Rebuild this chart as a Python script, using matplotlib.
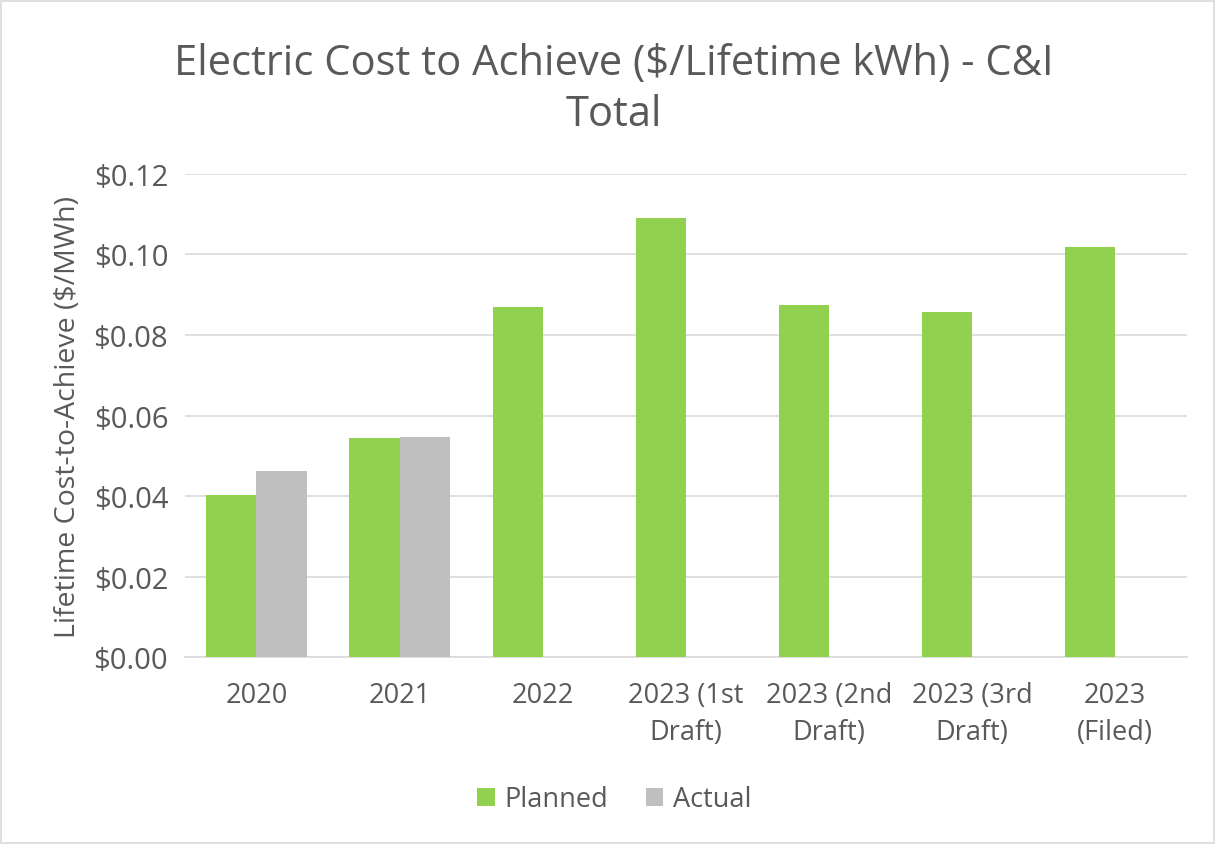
import numpy as np
import matplotlib.pyplot as plt
from matplotlib.patches import Rectangle

categories = ['2020', '2021', '2022', '2023 (1st\nDraft)', '2023 (2nd\nDraft)',
              '2023 (3rd\nDraft)', '2023\n(Filed)']
planned = [0.0402, 0.0544, 0.0870, 0.1091, 0.0875, 0.0857, 0.1019]
actual = [0.0462, 0.0547, np.nan, np.nan, np.nan, np.nan, np.nan]
yticks = [0.0, 0.02, 0.04, 0.06, 0.08, 0.10, 0.12]

plt.rcParams['font.family'] = ['Open Sans', 'DejaVu Sans']
text_color = '#595959'

fig = plt.figure(figsize=(12.16, 8.45), dpi=100)
ax = fig.add_axes([0.152, 0.221, 0.824, 0.572])

x = np.arange(len(categories))
w = 0.35
ax.bar(x - w / 2, planned, w, color='#92D050', label='Planned', zorder=3)
ax.bar(x + w / 2, actual, w, color='#BFBFBF', label='Actual', zorder=3)

ax.set_xlim(-0.5, len(categories) - 0.5)
ax.set_ylim(0, 0.12)
ax.set_yticks(yticks)
ax.set_yticklabels(['$%.2f' % v for v in yticks])
ax.set_xticks(x)
ax.set_xticklabels(categories, linespacing=1.45)
ax.tick_params(length=0, colors=text_color)
ax.tick_params(axis='x', pad=17, labelsize=19.5)
ax.tick_params(axis='y', pad=12, labelsize=21)
ax.grid(axis='y', color='#D9D9D9', linewidth=1.2, zorder=0)
for s in ['top', 'right', 'left']:
    ax.spines[s].set_visible(False)
ax.spines['bottom'].set_color('#D9D9D9')
ax.spines['bottom'].set_linewidth(1.2)

ax.set_ylabel('Lifetime Cost-to-Achieve ($/MWh)', fontsize=20.5, color=text_color, labelpad=8)

fig.text(0.505, 0.894, 'Electric Cost to Achieve ($/Lifetime kWh) - C&I\nTotal',
         ha='center', va='center', fontsize=30, color=text_color, linespacing=1.3)

fig.legend(loc='center', bbox_to_anchor=(0.505, 0.053), ncol=2, frameon=False,
           fontsize=19.5, labelcolor=text_color, handlelength=0.65, handleheight=0.65,
           handletextpad=0.35, columnspacing=1.4)

fig.patches.append(Rectangle((0.001, 0.001), 0.997, 0.997, transform=fig.transFigure,
                             fill=False, edgecolor='#D9D9D9', linewidth=1.2))

fig.savefig('out.png', dpi=100)
